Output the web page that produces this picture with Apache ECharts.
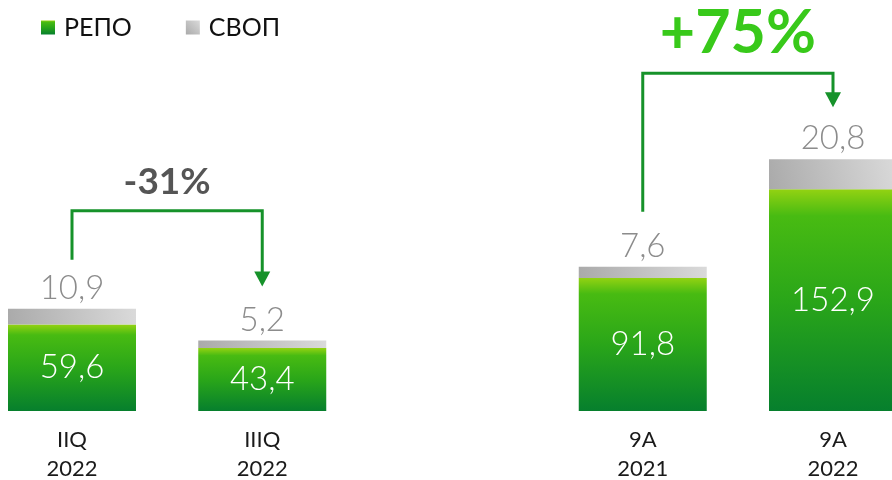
<!DOCTYPE html>
<html>
<head>
<meta charset="utf-8">
<script src="https://cdn.jsdelivr.net/npm/echarts@6/dist/echarts.min.js"></script>
<style>
  html, body { margin: 0; padding: 0; background: #fff; }
  #chart { width: 892px; height: 480px; }
</style>
</head>
<body>
<div id="chart"></div>
<script>
// Periods (the empty slot separates the quarterly pair from the 9-month pair)
const categories = ['IIQ\n2022', 'IIIQ\n2022', '', '9A\n2021', '9A\n2022'];
// РЕПО volumes
const repoValues = [59.6, 43.4, null, 91.8, 152.9];
// СВОП volumes
const swapValues = [10.9, 5.2, null, 7.6, 20.8];
// Change callouts: [from index, to index, text]
const changes = [
  [0, 1, '-31%'],
  [3, 4, '+75%']
];

const FONT = 'Lato, "Open Sans", sans-serif';
const fmt = v => String(v).replace('.', ',');

const greenFill = new echarts.graphic.LinearGradient(0, 0, 0, 1, [
  { offset: 0, color: '#93d212' },
  { offset: 0.12, color: '#48bb12' },
  { offset: 0.5, color: '#2aa619' },
  { offset: 1, color: '#067f2d' }
]);
const greyFill = new echarts.graphic.LinearGradient(0, 1, 1, 0, [
  { offset: 0, color: '#aaaaaa' },
  { offset: 1, color: '#dadada' }
]);

const chart = echarts.init(document.getElementById('chart'));
chart.setOption({
  animation: false,
  backgroundColor: '#ffffff',
  legend: {
    left: 36,
    top: 10,
    icon: 'rect',
    itemWidth: 14,
    itemHeight: 14,
    itemGap: 54,
    textStyle: { fontFamily: FONT, fontSize: 25, color: '#111', padding: [0, 0, 0, 4] },
    data: ['РЕПО', 'СВОП']
  },
  grid: { left: 72, right: 59, top: 121, bottom: 69, containLabel: false, outerBoundsMode: 'none' },
  xAxis: {
    type: 'category',
    data: categories,
    boundaryGap: false,
    axisLine: { show: false },
    axisTick: { show: false },
    axisLabel: {
      interval: 0,
      margin: 14,
      fontFamily: FONT,
      fontSize: 22,
      lineHeight: 29,
      color: '#1a1a1a'
    }
  },
  yAxis: { type: 'value', min: 0, max: 200, show: false, splitLine: { show: false } },
  series: [
    {
      name: 'РЕПО',
      type: 'bar',
      stack: 'total',
      barWidth: 128,
      clip: false,
      data: repoValues,
      itemStyle: { color: greenFill },
      label: {
        show: true,
        position: 'inside',
        fontFamily: FONT,
        fontWeight: 300,
        fontSize: 33,
        color: '#ffffff',
        formatter: p => fmt(p.value)
      }
    },
    {
      name: 'СВОП',
      type: 'bar',
      stack: 'total',
      barWidth: 128,
      clip: false,
      data: swapValues,
      itemStyle: { color: greyFill },
      label: {
        show: true,
        position: 'top',
        distance: 4,
        fontFamily: FONT,
        fontWeight: 300,
        fontSize: 33,
        color: '#8c8c8c',
        formatter: p => fmt(p.value)
      }
    }
  ]
});

// Bracket callouts above each pair of bars
function drawCallouts() {
  const line = '#16922a';
  const elements = [];
  const topOf = i => chart.convertToPixel({ seriesIndex: 1 }, [i, repoValues[i] + swapValues[i]]);
  changes.forEach(([a, b, text], k) => {
    const pa = topOf(a);
    const pb = topOf(b);
    const startY = pa[1] - (k === 0 ? 49 : 55);
    const tipY = pb[1] - (k === 0 ? 54 : 52);
    const barY = k === 0 ? Math.min(pa[1], pb[1]) - 98 : Math.min(pa[1], pb[1]) - 86;
    elements.push({
      type: 'polyline',
      shape: { points: [[pa[0], startY], [pa[0], barY], [pb[0], barY], [pb[0], tipY - 12]] },
      style: { stroke: line, lineWidth: 3, fill: null }
    });
    elements.push({
      type: 'polygon',
      shape: { points: [[pb[0] - 8, tipY - 15], [pb[0] + 8, tipY - 15], [pb[0], tipY]] },
      style: { fill: line }
    });
    elements.push({
      type: 'text',
      x: (pa[0] + pb[0]) / 2,
      y: k === 0 ? barY - 29 : barY - 40,
      style: {
        text: text,
        fontFamily: FONT,
        fontWeight: 'bold',
        fontSize: k === 0 ? 37 : 61,
        fill: k === 0 ? '#555555' : '#38c91a',
        align: 'center',
        verticalAlign: 'middle'
      }
    });
  });
  chart.setOption({ graphic: elements });
}
drawCallouts();
</script>
</body>
</html>
